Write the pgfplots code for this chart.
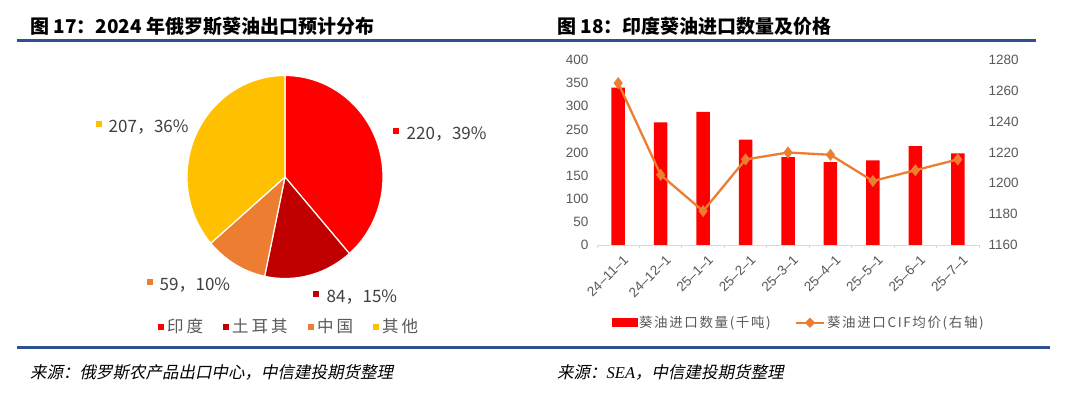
\documentclass[border=0pt]{standalone}
\usepackage{pgfplots}
\pgfplotsset{compat=1.18}
\usepackage{pgfplotstable}
\usepackage{fontspec}
\setmainfont{Liberation Sans}
\newfontfamily\cjk{Noto Sans CJK SC}
\newfontfamily\cjkls[LetterSpace=12]{Noto Sans CJK SC}
\newfontfamily\cjklsb[LetterSpace=18]{Noto Sans CJK SC}
\newfontfamily\cjkit[FakeSlant=0.2]{Noto Sans CJK SC}
\newfontfamily\tnr{Liberation Serif}
\definecolor{cIndia}{HTML}{FF0000}
\definecolor{cTurkey}{HTML}{C00000}
\definecolor{cChina}{HTML}{ED7D31}
\definecolor{cOther}{HTML}{FFC000}
\definecolor{hblue}{HTML}{2F5192}
\definecolor{tgray}{HTML}{595959}
\definecolor{lgray}{HTML}{D9D9D9}
\definecolor{lbl}{HTML}{404040}

% pie data (thousand tonnes)
\def\vIndia{220}
\def\vTurkey{84}
\def\vChina{59}
\def\vOther{207}

% India sunflower oil imports
\pgfplotstableread{
x qty price
0 340 1265
1 265 1205.5
2 288 1182
3 228 1215.5
4 190 1220
5 179 1218.5
6 183 1201.5
7 214 1208.5
8 198 1215.5
}\imports

\pgfmathsetmacro{\tot}{\vIndia+\vTurkey+\vChina+\vOther}
\pgfmathsetmacro{\aA}{90}
\pgfmathsetmacro{\aB}{\aA-360*(\vIndia/\tot)}
\pgfmathsetmacro{\aC}{\aB-360*(\vTurkey/\tot)}
\pgfmathsetmacro{\aD}{\aC-360*(\vChina/\tot)}
\pgfmathsetmacro{\aE}{\aD-360*(\vOther/\tot)}

\begin{document}%
\begin{tikzpicture}
\path[use as bounding box, fill=white] (0,0) rectangle (1080pt,399pt);

% ---------- pie ----------
\begin{axis}[at={(285pt,222pt)}, anchor=center, scale only axis,
  width=196pt, height=203pt, xmin=-1, xmax=1, ymin=-1, ymax=1,
  hide axis, clip=false]
\addplot[fill=cIndia, draw=white, line width=1.2pt, domain=\aB:\aA, samples=90, variable=\t]
  ({cos(\t)},{sin(\t)}) -- (axis cs:0,0) -- cycle;
\addplot[fill=cTurkey, draw=white, line width=1.2pt, domain=\aC:\aB, samples=60, variable=\t]
  ({cos(\t)},{sin(\t)}) -- (axis cs:0,0) -- cycle;
\addplot[fill=cChina, draw=white, line width=1.2pt, domain=\aD:\aC, samples=50, variable=\t]
  ({cos(\t)},{sin(\t)}) -- (axis cs:0,0) -- cycle;
\addplot[fill=cOther, draw=white, line width=1.2pt, domain=\aE:\aD, samples=90, variable=\t]
  ({cos(\t)},{sin(\t)}) -- (axis cs:0,0) -- cycle;
\end{axis}

% ---------- bars (left axis) ----------
\begin{axis}[at={(597pt,154pt)}, anchor=south west, scale only axis,
  width=382pt, height=185pt, xmin=-0.5, xmax=8.5, ymin=0, ymax=400,
  axis x line*=bottom, axis y line*=left,
  x axis line style={draw=lgray, line width=0.8pt},
  y axis line style={draw=none},
  /pgf/number format/assume math mode=true,
  /pgf/number format/1000 sep={},
  ytick={0,50,...,400},
  major tick length=0pt,
  xtick={0,...,8},
  xticklabels={24--11--1,24--12--1,25--1--1,25--2--1,25--3--1,25--4--1,25--5--1,25--6--1,25--7--1},
  minor xtick={-0.5,0.5,...,8.5},
  minor tick length=3.5pt, tick align=outside,
  minor x tick style={draw=lgray, line width=0.8pt},
  yticklabel style={font=\fontsize{13.5}{14}\selectfont, text=tgray, xshift=-5pt},
  xticklabel style={font=\fontsize{13.5}{14}\selectfont, text=tgray, rotate=45, anchor=north east, xshift=0pt, yshift=-6pt},
  ]
\addplot[ybar, bar width=13.5pt, fill=cIndia, draw=none] table[x=x,y=qty]{\imports};
\end{axis}

% ---------- price line (right axis) ----------
\begin{axis}[at={(597pt,154pt)}, anchor=south west, scale only axis,
  width=382pt, height=185pt, xmin=-0.5, xmax=8.5, ymin=1160, ymax=1280,
  axis x line=none, axis y line*=right,
  y axis line style={draw=none},
  xtick=\empty,
  /pgf/number format/assume math mode=true,
  /pgf/number format/1000 sep={},
  ytick={1160,1180,...,1280},
  major tick length=0pt,
  yticklabel style={font=\fontsize{13.5}{14}\selectfont, text=tgray, xshift=6pt},
  legend columns=2,
  legend cell align=left,
  legend style={draw=none, fill=none, at={(0.528,-0.42)}, anchor=center,
    font=\cjkls\fontsize{13.5}{14}\selectfont, text=tgray,
    /tikz/every even column/.append style={column sep=22pt}},
  ]
\addlegendimage{legend image code/.code={\fill[cIndia] (0pt,-4pt) rectangle (25pt,4pt);}}
\addlegendentry{葵油进口数量(千吨)}
\addplot[color=cChina, line width=2.3pt, mark=diamond*, mark size=4.2pt,
  legend image code/.code={\draw[cChina, line width=2.3pt] (0pt,0pt) -- (28pt,0pt);
    \fill[cChina] (14pt,3.5pt) -- (17.5pt,0pt) -- (14pt,-3.5pt) -- (10.5pt,0pt) -- cycle;}]
  table[x=x,y=price]{\imports};
\addlegendentry{葵油进口CIF均价(右轴)}
\end{axis}

% ---------- texts & rules ----------
\begin{scope}[x=1pt, y=-1pt, shift={(0pt,399pt)}]
\draw[hblue, line width=2.6pt] (17,40.5) -- (1036,40.5);
\draw[hblue, line width=3pt] (17,348) -- (1050,348);
\node[anchor=base west, inner sep=0, font=\cjk\bfseries\fontsize{19}{20}\selectfont] at (30,34) {图 17：2024 年俄罗斯葵油出口预计分布};
\node[anchor=base west, inner sep=0, font=\cjk\bfseries\fontsize{19}{20}\selectfont] at (557,34) {图 18：印度葵油进口数量及价格};
\node[anchor=base west, inner sep=0, font=\cjkit\fontsize{16.5}{18}\selectfont] at (30,379) {来源：俄罗斯农产品出口中心，中信建投期货整理};
\node[anchor=base west, inner sep=0, font=\cjkit\fontsize{16.5}{18}\selectfont] at (557,379) {来源：{\tnr\itshape SEA}，中信建投期货整理};
% pie data labels
\node[anchor=base west, inner sep=0, text=lbl, font=\cjk\fontsize{17}{18}\selectfont] at (96,133) {\textcolor{cOther}{\raisebox{6pt}{\rule{5.5pt}{5.5pt}}}\hspace{7pt}207，36\%};
\node[anchor=base west, inner sep=0, text=lbl, font=\cjk\fontsize{17}{18}\selectfont] at (393,140) {\textcolor{cIndia}{\raisebox{6pt}{\rule{5.5pt}{5.5pt}}}\hspace{8pt}220，39\%};
\node[anchor=base west, inner sep=0, text=lbl, font=\cjk\fontsize{17}{18}\selectfont] at (147,291) {\textcolor{cChina}{\raisebox{6pt}{\rule{5.5pt}{5.5pt}}}\hspace{7pt}59，10\%};
\node[anchor=base west, inner sep=0, text=lbl, font=\cjk\fontsize{17}{18}\selectfont] at (313,303) {\textcolor{cTurkey}{\raisebox{6pt}{\rule{5.5pt}{5.5pt}}}\hspace{8pt}84，15\%};
% pie legend
\foreach \xx/\cc/\tt in {158/cIndia/印度, 223/cTurkey/土耳其, 308/cChina/中国, 373/cOther/其他}{
  \node[anchor=base west, inner sep=0, text=tgray, font=\cjklsb\fontsize{16.5}{18}\selectfont] at (\xx,333)
    {\textcolor{\cc}{\raisebox{3pt}{\rule{5.5pt}{5.5pt}}}\hspace{3.5pt}\tt};
}
\end{scope}
\end{tikzpicture}%
\end{document}
